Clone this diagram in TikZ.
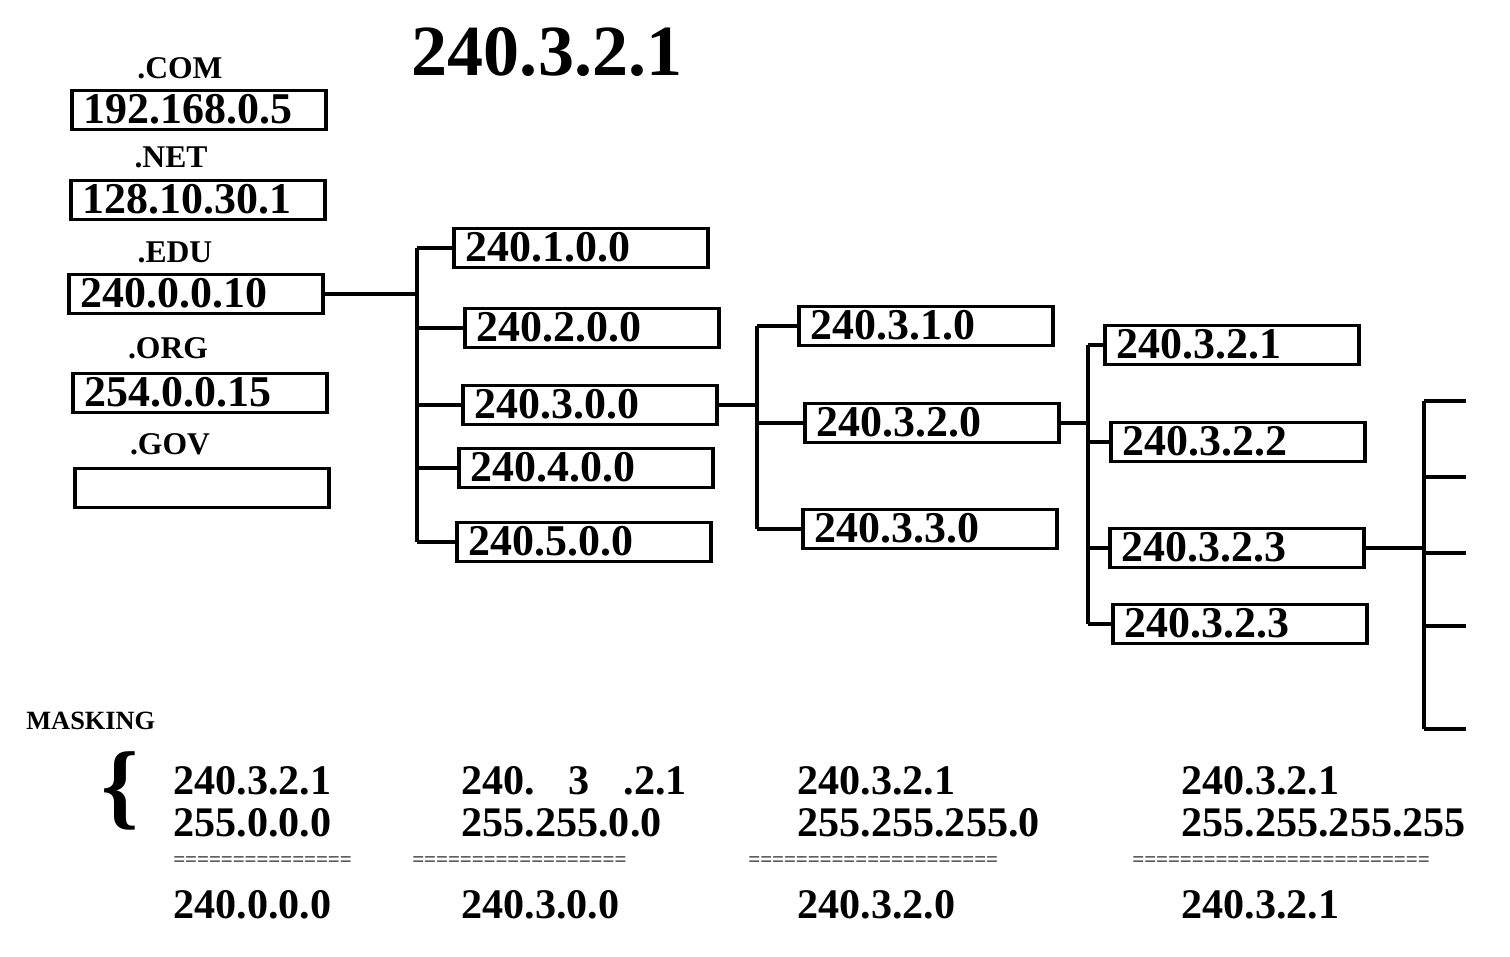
\documentclass[tikz,border=0pt]{standalone}
\usepackage{fontspec}
\setmainfont{Liberation Serif}
\usetikzlibrary{positioning}

\begin{document}
\begin{tikzpicture}[x=0.02cm,y=-0.02cm,
    ipbox/.style={draw,line width=2.2pt,anchor=west,minimum width=5.08cm,minimum height=0.78cm,
      text width=4.6cm,align=left,inner xsep=6pt,inner ysep=1pt,text height=15pt,text depth=0pt,
      font=\fontsize{25}{25}\selectfont\bfseries},
    tld/.style={font=\fontsize{18}{18}\selectfont\bfseries,inner sep=0pt},
    wire/.style={line width=2.4pt},
    masktxt/.style={anchor=west,inner sep=0pt,font=\fontsize{24}{24}\selectfont\bfseries},
    dashtxt/.style={anchor=west,inner sep=0pt,font=\fontsize{12}{12}\selectfont}]
      \useasboundingbox (0,0) rectangle (1510,956);

      % title
      \node[font=\fontsize{41}{41}\selectfont\bfseries] (title) at (547,52) {240.3.2.1};

      % top level domains
      \node[ipbox] (com) at (70,110) {192.168.0.5};
      \node[tld] (comlbl) at (180,68) {.COM};
      \node[ipbox] (net) at (69,200) {128.10.30.1};
      \node[tld] (netlbl) at (171,157) {.NET};
      \node[ipbox] (edu) at (67,294) {240.0.0.10};
      \node[tld] (edulbl) at (175,252) {.EDU};
      \node[ipbox] (org) at (71,393) {254.0.0.15};
      \node[tld] (orglbl) at (168,348) {.ORG};
      \node[ipbox] (gov) at (73,488) {};
      \node[tld] (govlbl) at (170,444) {.GOV};

      % 240.x.0.0
      \node[ipbox] (n1) at (452,248) {240.1.0.0};
      \node[ipbox] (n2) at (463,328) {240.2.0.0};
      \node[ipbox] (n3) at (461,405) {240.3.0.0};
      \node[ipbox] (n4) at (457,468) {240.4.0.0};
      \node[ipbox] (n5) at (455,542) {240.5.0.0};

      \draw[wire] (edu.east) -- ++(92,0) coordinate (b1);
      \draw[wire] (b1 |- n1.west) -- (b1 |- n5.west);
      \foreach \n in {n1,n2,n3,n4,n5}
        \draw[wire] (b1 |- \n.west) -- (\n.west);

      % 240.3.x.0
      \node[ipbox] (m1) at (797,326) {240.3.1.0};
      \node[ipbox] (m2) at (803,423) {240.3.2.0};
      \node[ipbox] (m3) at (801,529) {240.3.3.0};

      \draw[wire] (n3.east) -- ++(38,0) coordinate (b2);
      \draw[wire] (b2 |- m1.west) -- (b2 |- m3.west);
      \foreach \n in {m1,m2,m3}
        \draw[wire] (b2 |- \n.west) -- (\n.west);

      % 240.3.2.x
      \node[ipbox] (k1) at (1103,345) {240.3.2.1};
      \node[ipbox] (k2) at (1109,442) {240.3.2.2};
      \node[ipbox] (k3) at (1108,548) {240.3.2.3};
      \node[ipbox] (k4) at (1111,624) {240.3.2.3};

      \draw[wire] (m2.east) -- ++(27,0) coordinate (b3);
      \draw[wire] (b3 |- k1.west) -- (b3 |- k4.west);
      \foreach \n in {k1,k2,k3,k4}
        \draw[wire] (b3 |- \n.west) -- (\n.west);

      % open ends
      \draw[wire] (k3.east) -- ++(58,0) coordinate (b4);
      \foreach \y [count=\i] in {401,477,553,626,729}
        \coordinate (h\i) at (1466,\y);
      \draw[wire] (b4 |- h1) -- (b4 |- h5);
      \foreach \i in {1,...,5}
        \draw[wire] (b4 |- h\i) -- (h\i);

      % masking
      \node[anchor=west,inner sep=0pt,font=\fontsize{15}{15}\selectfont\bfseries] (mask) at (26,721) {MASKING};
      \node[font=\fontsize{54}{54}\selectfont\bfseries] (brace) at (120,791) {\{};
      \foreach \x/\dx/\a/\m/\r/\d [count=\i] in {
          173/173/240.3.2.1/255.0.0.0/240.0.0.0/===============,
          461/412/{240.\hspace{0.8em}3\hspace{0.8em}.2.1}/255.255.0.0/240.3.0.0/==================,
          797/748/240.3.2.1/255.255.255.0/240.3.2.0/=====================,
          1181/1132/240.3.2.1/255.255.255.255/240.3.2.1/=========================}{
        \node[masktxt] (ip\i) at (\x,781) {\a};
        \node[masktxt] (mk\i) at (\x,823) {\m};
        \node[dashtxt] (ln\i) at (\dx,862) {\d};
        \node[masktxt] (res\i) at (\x,905) {\r};
      }
\end{tikzpicture}
\end{document}
